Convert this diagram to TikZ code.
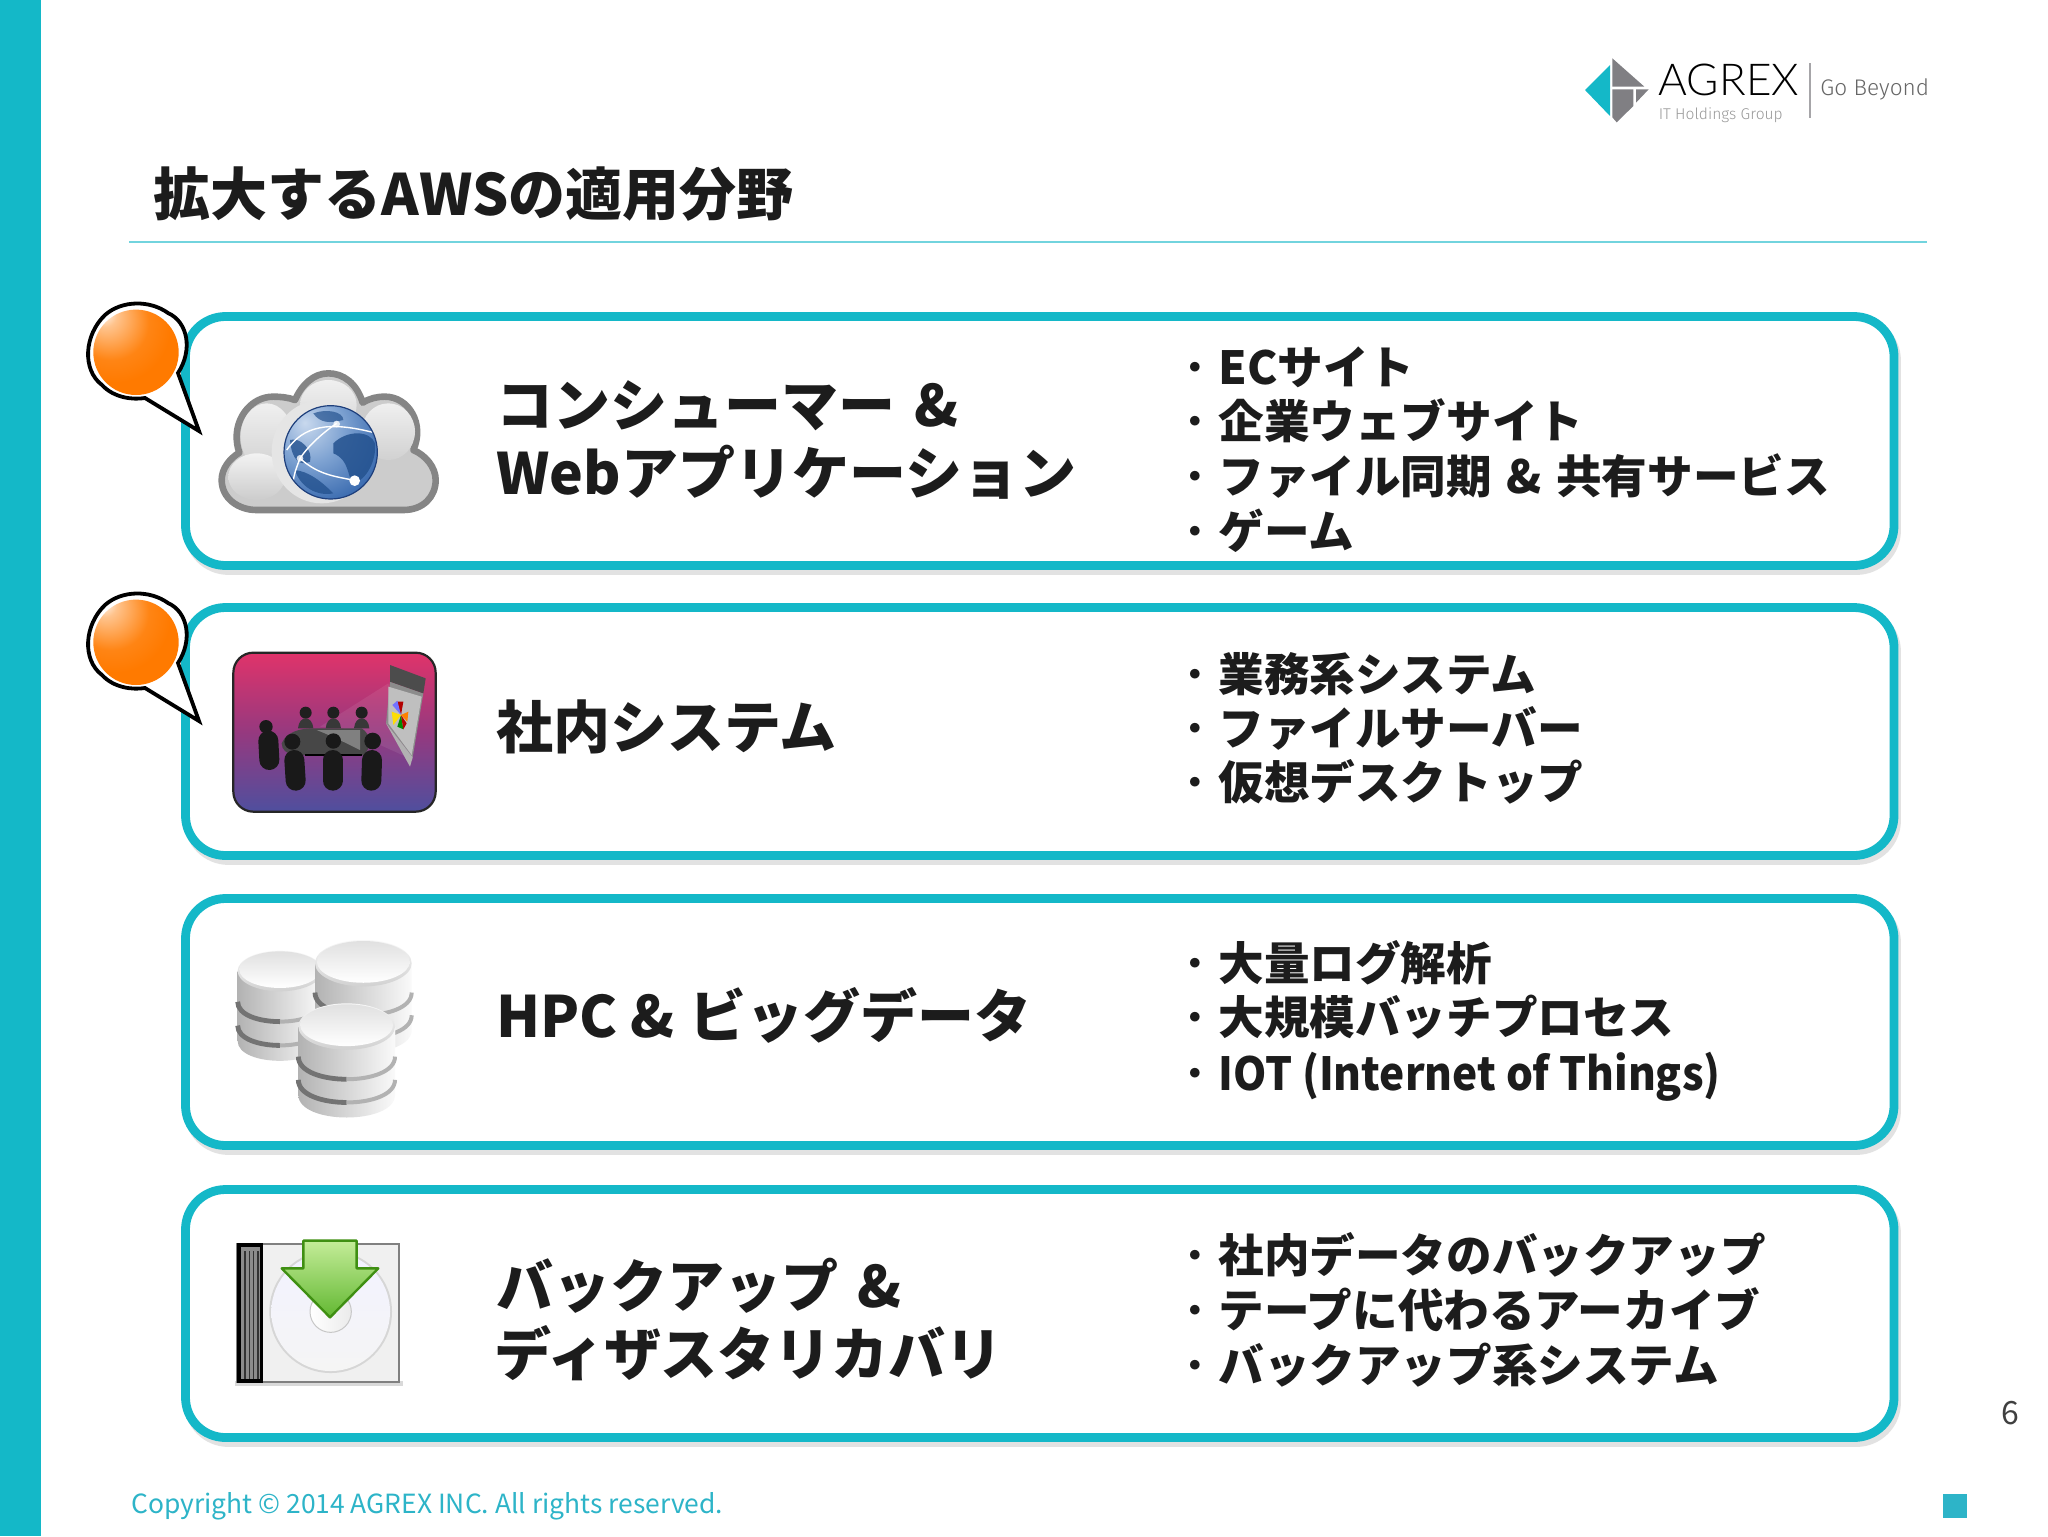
\documentclass[tikz,border=0pt]{standalone}
\usepackage{fontspec}
\usetikzlibrary{calc}
\newfontfamily\jp{Noto Sans CJK JP}
\newfontfamily\jpnarrow{Noto Sans CJK JP}[FakeStretch=.93]
\newfontfamily\logofont{Lato Light}
\newfontfamily\tagfont{Fira Sans Light}
\definecolor{teal1}{HTML}{14B8C8}
\definecolor{ink}{HTML}{1C1C1C}
\definecolor{foot}{HTML}{2DB4C8}
\definecolor{orb}{HTML}{FF7A00}
\definecolor{logogray}{HTML}{807F83}
\definecolor{roomA}{HTML}{E0336A}
\definecolor{roomB}{HTML}{96397F}
\definecolor{roomC}{HTML}{4F4F9E}
\definecolor{glA}{HTML}{C9D9EE}
\definecolor{glB}{HTML}{7FA3D2}
\definecolor{glC}{HTML}{3F6FB2}
\definecolor{glD}{HTML}{1E3F7C}
\definecolor{land}{HTML}{24528F}
\definecolor{arrA}{HTML}{C4EC98}
\definecolor{arrB}{HTML}{62B832}
\definecolor{arrC}{HTML}{3F8F12}
\pgfdeclareradialshading{orbshade}{\pgfpoint{-20bp}{24bp}}{color(0bp)=(white);color(7bp)=(orb!45!white);color(22bp)=(orb!92!white);color(32bp)=(orb);color(80bp)=(orb)}
\pgfdeclareradialshading{globeshade}{\pgfpoint{-14bp}{16bp}}{color(0bp)=(glA);color(18bp)=(glB);color(36bp)=(glC);color(58bp)=(glD);color(90bp)=(glD)}
\tikzset{
  panel/.style={draw=teal1,line width=4.4pt,fill=white,rounded corners=20pt},
  panelshadow/.style={draw=black!45,line width=4.4pt,rounded corners=20pt,opacity=.25},
  headtext/.style={anchor=base west,inner sep=0pt,text=ink,font=\jp\bfseries\fontsize{28.5}{32}\selectfont},
  listtext/.style={anchor=base west,inner sep=0pt,text=ink,font=\jp\bfseries\fontsize{22.8}{26}\selectfont},
  zoomed/.style={x=.16667pt,y=-.16667pt},
  person/.style={line cap=round,draw=black!90,line width=#1},
}
\newcommand{\bull}{{\mdseries ・}}
\newcommand{\bubble}[1]{%
  \begin{scope}[shift={(0,#1)}]
    \draw[fill=white,draw=black,line width=1.9pt,line join=miter] (178,373)
      .. controls (193,350) and (188,322) .. (168,313)
      .. controls (150,300) and (122,300) .. (105,315)
      .. controls (84,335) and (82,370) .. (102,385)
      .. controls (114,398) and (133,400) .. (145,398) -- (199,431) -- cycle;
    \shade[shading=orbshade] (136,352.3) circle (42.7);
  \end{scope}}
\newcommand{\dbcyl}[4]{%
  \pgfmathsetmacro{\xl}{#1-#3}\pgfmathsetmacro{\xr}{#1+#3}
  \pgfmathsetmacro{\ry}{#3*.48}\pgfmathsetmacro{\cy}{#2+\ry}
  \pgfmathsetmacro{\by}{\cy+#4}\pgfmathsetmacro{\dep}{\ry*1.3}
  \fill[white] (\xl,\cy) -- (\xl,\by) .. controls (\xl,\by+\dep) and (\xr,\by+\dep) .. (\xr,\by) -- (\xr,\cy) -- cycle;
  \shade[left color=black!30,middle color=black!12,right color=black!2] (\xl,\cy) -- (\xl,\by) .. controls (\xl,\by+\dep) and (\xr,\by+\dep) .. (\xr,\by) -- (\xr,\cy) -- cycle;
  \foreach \fr in {.44,.78}{
    \pgfmathsetmacro{\yb}{\cy+#4*\fr}
    \pgfmathsetmacro{\ym}{\yb+.75*\dep}
    \pgfmathsetmacro{\yh}{\yb+.5*\dep}
    \draw[black!55,line width=2.4pt] (\xl,\yb) .. controls (\xl,\yh) and (#1-.5*#3,\ym) .. (#1,\ym);
    \draw[black!30,line width=2pt] (#1,\ym) .. controls (#1+.5*#3,\ym) and (\xr,\yh) .. (\xr,\yb);
  }
  \shade[top color=black!3,bottom color=black!18] (#1,\cy) ellipse [x radius=#3,y radius=\ry];
  \shade[top color=black!12,bottom color=white] (#1,\cy-4) ellipse [x radius=#3*.96,y radius=\ry*.9];
}
\begin{document}
\begin{tikzpicture}[x=.5pt,y=-.5pt]
\useasboundingbox (0,0) rectangle (2048,1536);
\fill[white] (0,0) rectangle (2048,1536);
\fill[teal1] (0,0) rectangle (40.5,1536);

% title
\node[anchor=base west,inner sep=0pt,text=ink,font=\jp\bfseries\fontsize{28.5}{32}\selectfont] (title) at (153,215) {拡大するAWSの適用分野};
\coordinate (ruleL) at (129,242);
\coordinate (ruleR) at (1927,242);
\draw[teal1!60!white,line width=.6pt] (ruleL) -- (ruleR);

% logo
\begin{scope}[shift={(1560,40)},zoomed]
  \fill[teal1] (150,75) -- (150,228) -- (75,150) -- cycle;
  \fill[logogray] (157,55) -- (253,140) -- (157,140) -- cycle;
  \fill[logogray] (157,148) -- (220,148) -- (220,198) -- (170,247) -- (157,232) -- cycle;
  \fill[logogray] (228,148) -- (266,148) -- (228,188) -- cycle;
  \draw[logogray!70,line width=.6pt] (750,70) -- (750,235);
  \node[anchor=base west,inner sep=0pt,text=black,font=\logofont\fontsize{22}{26}\selectfont] (logoname) at (295,165) {AGREX};
  \node[anchor=base west,inner sep=0pt,text=black!40,font=\tagfont\fontsize{7.8}{10}\selectfont] (logosub) at (295,238) {IT Holdings Group};
  \node[anchor=base west,inner sep=0pt,text=black!60,font=\tagfont\fontsize{11.3}{14}\selectfont] (logotag) at (780,165) {Go Beyond};
\end{scope}

% panels
\foreach \t/\b in {316.5/565.5,607.5/855.5,898.5/1145.5,1189.5/1437.5}{
  \draw[panelshadow] (188.5,\t+4) rectangle (1896.5,\b+5);
  \draw[panel] (185.5,\t) rectangle (1894,\b);
}

% bubbles
\bubble{0}
\bubble{290}

% cloud icon
\begin{scope}[shift={(60,280)},zoomed]
  \path[fill=black!20,draw=black!48,line width=3.3pt,line join=round] (590,690) -- (1030,690)
    .. controls (1090,690) and (1127,650) .. (1127,600)
    .. controls (1127,560) and (1095,525) .. (1060,510)
    .. controls (1095,430) and (1045,350) .. (975,350)
    .. controls (950,350) and (930,355) .. (908,368)
    .. controls (890,310) and (850,280) .. (805,280)
    .. controls (760,280) and (725,315) .. (705,360)
    .. controls (685,352) and (660,350) .. (640,350)
    .. controls (575,350) and (530,410) .. (530,470)
    .. controls (530,485) and (532,500) .. (538,518)
    .. controls (510,535) and (485,565) .. (485,600)
    .. controls (485,655) and (535,690) .. (590,690) -- cycle;
  \shade[top color=black!6,bottom color=black!18] (620,470) ellipse [x radius=78,y radius=100];
  \shade[top color=black!5,bottom color=black!20] (590,590) ellipse [x radius=85,y radius=70];
  \shade[top color=black!6,bottom color=black!16] (805,375) ellipse [x radius=85,y radius=75];
  \shade[top color=black!6,bottom color=black!18] (985,455) ellipse [x radius=80,y radius=85];
  \fill[black!10] (785,515) ellipse [x radius=150,y radius=155];
  % globe
  \begin{scope}
    \clip (812,517) circle (140);
    \shade[shading=globeshade] (812,517) circle (140);
    \fill[land,opacity=.85] (820,490) .. controls (860,450) and (930,450) .. (945,490) .. controls (950,540) and (920,600) .. (880,610) .. controls (860,590) and (870,540) .. (820,520) -- cycle;
    \fill[land,opacity=.8] (690,480) .. controls (720,470) and (760,510) .. (750,545) .. controls (720,560) and (695,540) .. (690,480) -- cycle;
    \fill[land,opacity=.8] (705,570) .. controls (745,575) and (780,600) .. (820,640) .. controls (770,650) and (720,620) .. (705,570) -- cycle;
    \fill[land,opacity=.7] (760,400) .. controls (800,385) and (850,395) .. (850,420) .. controls (810,430) and (780,430) .. (760,400) -- cycle;
    \draw[white,line width=.7pt] (680,510) .. controls (730,440) and (800,420) .. (950,460);
    \draw[white,line width=.7pt] (720,535) .. controls (780,590) and (840,590) .. (885,602);
    \draw[white,line width=.7pt] (720,535) .. controls (750,490) and (800,450) .. (830,430);
    \draw[white,line width=.7pt] (700,600) .. controls (705,570) and (715,550) .. (720,535);
  \end{scope}
  \draw[glD,line width=.6pt] (812,517) circle (140);
  \fill[white] (884,602) circle (16);
  \fill[white,opacity=.8] (720,535) circle (10);
  \fill[white,opacity=.8] (830,432) circle (10);
\end{scope}

% meeting room icon
\begin{scope}[shift={(60,580)},zoomed]
  \path[draw=black!85,line width=1.1pt,rounded corners=10pt,top color=roomA,bottom color=roomC,middle color=roomB] (520,218) rectangle (1127,695);
  \fill[white,opacity=.08] (780,440) -- (985,310) -- (1060,540) -- (850,445) -- cycle;
  \fill[black!45] (978,430) -- (990,305) -- (1090,340) -- (1058,532) -- cycle;
  \fill[black!70] (990,255) -- (1097,295) -- (1090,340) -- (990,305) -- cycle;
  \fill[black!30] (978,430) -- (1058,532) -- (1050,560) -- cycle;
  \fill[black!25] (985,320) -- (1085,350) -- (1055,525) -- (985,430) -- cycle;
  \fill[red!70!black] (1023,405) -- (1010,365) -- (1030,365) -- cycle;
  \fill[blue!55!white] (1023,405) -- (997,375) -- (1012,362) -- cycle;
  \fill[green!55!black] (1023,405) -- (1030,448) -- (1012,440) -- cycle;
  \fill[yellow!80!orange] (1023,405) -- (1000,435) -- (995,395) -- cycle;
  \fill[red!70!black] (1023,405) -- (1040,430) -- (1030,448) -- cycle;
  \fill[orange] (1023,405) -- (1045,395) -- (1042,425) -- cycle;
  % back row
  \foreach \px in {737,820,905}{
    \fill[black!88] (\px,398) circle (18);
    \fill[black!78] (\px-23,445) .. controls (\px-20,405) and (\px+20,405) .. (\px+23,445) -- cycle;
  }
  % table
  \fill[black!72] (665,490) .. controls (680,455) and (720,445) .. (760,445) -- (905,445) .. controls (930,460) and (940,500) .. (910,525) -- (700,525) .. controls (680,520) and (665,510) .. (665,490) -- cycle;
  \fill[black!50] (770,450) -- (900,450) -- (900,510) .. controls (860,490) and (820,470) .. (770,450) -- cycle;
  \draw[black,line width=1pt] (735,525) -- (905,525);
  % front seats
  \draw[person=10pt] (625,482) -- (628,540);
  \fill[black!90] (618,440) circle (20);
  \draw[person=10pt] (703,540) -- (707,602);
  \fill[black!90] (697,485) circle (24);
  \draw[person=10pt] (818,540) -- (818,602);
  \fill[black!90] (820,483) circle (23);
  \draw[person=10pt] (936,540) -- (934,602);
  \fill[black!90] (938,483) circle (25);
\end{scope}

% database icon
\begin{scope}[shift={(200,910)},zoomed]
  \dbcyl{240}{122}{127}{210}
  \dbcyl{490}{90}{145}{200}
  \dbcyl{440}{280}{145}{205}
\end{scope}

% CD icon
\begin{scope}[shift={(200,910)},zoomed]
  \fill[black!15] (105,1412) rectangle (610,1428);
  \path[fill=blue!5!black!6,draw=black!50,line width=.9pt] (110,1003) rectangle (598,1415);
  \begin{scope}
    \clip (190,1005) rectangle (596,1412);
    \fill[black!16] (392,1205) circle (184);
    \shade[top color=blue!5!white,bottom color=black!4] (392,1205) circle (178);
    \shade[left color=white,right color=black!8] (392,1205) circle (62);
    \draw[black!22,line width=.5pt] (392,1205) circle (62);
  \end{scope}
  \fill[black] (110,1000) rectangle (190,1418);
  \fill[black!45] (122,1012) rectangle (180,1408);
  \foreach \sx in {133,146,159,172}{\fill[black!80] (\sx,1024) rectangle (\sx+4,1408);}
  \shade[top color=arrA,bottom color=arrB]
    (310,992) -- (470,992) -- (470,1075) -- (535,1075) -- (390,1222) -- (245,1075) -- (310,1075) -- cycle;
  \path[draw=arrC,line width=1.2pt,line join=round]
    (310,992) -- (470,992) -- (470,1075) -- (535,1075) -- (390,1222) -- (245,1075) -- (310,1075) -- cycle;
\end{scope}

% headings
\node[headtext] (h1a) at (496,426) {コンシューマー\hspace{3pt} \&};
\node[headtext] (h1b) at (496,494) {Webアプリケーション};
\node[headtext] (h2a) at (496,748) {社内システム};
\node[headtext] (h3a) at (496,1037) {HPC \&\hspace{1pt} ビッグデータ};
\node[headtext] (h4a) at (496,1307) {バックアップ\hspace{3pt} \&};
\node[headtext] (h4b) at (494,1375) {ディザスタリカバリ};

% lists
\node[listtext] (l1) at (1172.5,384) {\bull ECサイト};
\node[listtext] (l2) at (1172.5,438) {\bull 企業ウェブサイト};
\node[listtext] (l3) at (1172.5,493) {\bull ファイル同期\hspace{2pt} \&\hspace{2pt} 共有サービス};
\node[listtext] (l4) at (1172.5,548) {\bull ゲーム};
\node[listtext] (l5) at (1172.5,691) {\bull 業務系システム};
\node[listtext] (l6) at (1172.5,745) {\bull ファイルサーバー};
\node[listtext] (l7) at (1172.5,799) {\bull 仮想デスクトップ};
\node[listtext] (l8) at (1172.5,980) {\bull 大量ログ解析};
\node[listtext] (l9) at (1172.5,1034) {\bull 大規模バッチプロセス};
\node[listtext] (l10) at (1172.5,1090) {\bull {\jpnarrow\bfseries IOT (Internet of Things)}};
\node[listtext] (l11) at (1172.5,1272) {\bull 社内データのバックアップ};
\node[listtext] (l12) at (1172.5,1327) {\bull テープに代わるアーカイブ};
\node[listtext] (l13) at (1172.5,1382) {\bull バックアップ系システム};

% footer
\node[anchor=base west,inner sep=0pt,text=foot,font=\jp\fontsize{13.2}{16}\selectfont] (copy) at (131,1513) {Copyright © 2014 AGREX INC. All rights reserved.};
\node[anchor=base,inner sep=0pt,text=black!75,font=\jp\fontsize{16}{18}\selectfont] (page) at (2010,1424) {6};
\fill[foot] (1943,1494) rectangle (1967,1518);
\end{tikzpicture}
\end{document}
